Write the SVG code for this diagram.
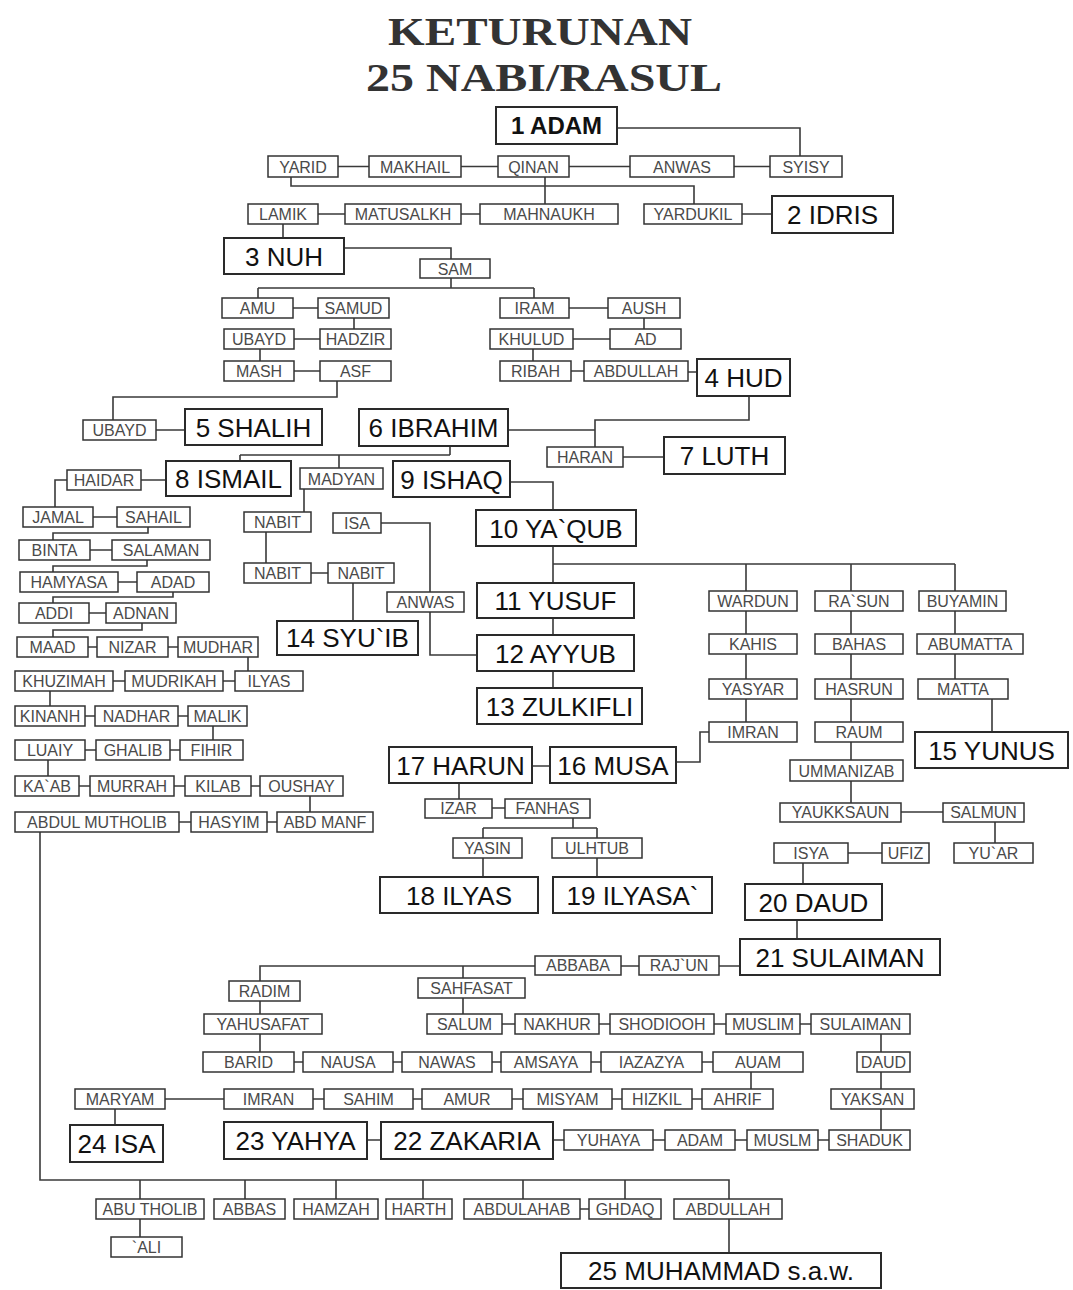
<svg xmlns="http://www.w3.org/2000/svg" width="1073" height="1290" viewBox="0 0 1073 1290">
<style>
.s rect{fill:#fff;stroke:#333;stroke-width:1.5}
.s text{font-family:"Liberation Sans",Arial,sans-serif;font-size:16px;fill:#4a4a4a;text-anchor:middle}
.b rect{fill:#fff;stroke:#2a2a2a;stroke-width:2}
.b text{font-family:"Liberation Sans",Arial,sans-serif;font-size:26px;fill:#111;text-anchor:middle}
.t{font-family:"Liberation Serif","Times New Roman",serif;font-weight:bold;font-size:41px;fill:#333;text-anchor:middle}
#connectors path{stroke:#3a3a3a;stroke-width:1.6;fill:none}
</style>
<rect width="1073" height="1290" fill="#fff"/>
<g id="title">
<text class="t" x="540" y="45" textLength="304" lengthAdjust="spacingAndGlyphs">KETURUNAN</text>
<text class="t" x="544" y="91" textLength="356" lengthAdjust="spacingAndGlyphs">25 NABI/RASUL</text>
</g>
<g id="connectors">
<path d="M617,128H800V156M291,177V186H694V204M545,177V204M283,224V238M344,248H451V259M451,278V288M258,288H534M258,288V298M534,288V298"/>
<path d="M338,166.5H369M461,166.5H498M569,166.5H630M734,166.5H770M318,214H345M461,214H480M742,214H772"/>
<path d="M293,308H318M569,308H608M354,318V329M644,318V329M294,339H320M573,339H610M260,349V361M533,349V361M294,371H320M571,371H584M688,372H697"/>
<path d="M337,381V397H113V420M156,430H185M508,430H595M749,396V420H595V447M623,457H664"/>
<path d="M450,446V455M240,455H450M240,455V461M339,455V468M141,480H166M67,480H55V507"/>
<path d="M93,517H117M148,527V533H53V540M90,550H112M147,560V566H53V572M118,582H137M173,592V597H53V603M89,613H106M142,623V630H53V637"/>
<path d="M88,647H97M168,647H178M248,657V671M113,681H125M223,681H235M50,691V706M85,716H95M178,716H188M213,726V740M85,750H96M170,750H180M48,760V776M79,786H90M174,786H185M251,786H260M310,796V812M179,822H191M267,822H277"/>
<path d="M40,832V1180H729V1199M140,1180V1199M245,1180V1199M336,1180V1199M423,1180V1199M523,1180V1199M625,1180V1199M580,1209H589M140,1219V1237M729,1219V1253"/>
<path d="M510,482H553V510M304,489V512M381,523H430V655H477M266,532V563M311,573H328M353,583V621"/>
<path d="M553,546V583M553,564H955M746,564V722M851,564V803M955,564V679M992,699V732M553,618V635M553,671V688"/>
<path d="M901,812H943M995,822V843M848,853H882M803,863V884M797,920V939M709,732H700V762H676"/>
<path d="M532,766H550M459,783V799M492,808H505M573,818V828M483,828H597M483,828V838M597,828V838M483,858V877M597,858V877"/>
<path d="M621,966H639M719,966H740M535,966H260V981M463,966V978M260,1001V1014M463,998V1014M502,1024H515M599,1024H610M714,1024H726M800,1024H811M260,1034V1052"/>
<path d="M294,1062H303M393,1062H402M492,1062H501M591,1062H601M702,1062H713M881,1034V1052M881,1072V1089M881,1109V1130M751,1072V1089"/>
<path d="M165,1099H224M313,1099H324M412,1099H422M512,1099H523M612,1099H622M692,1099H702M115,1109V1125M367,1140H381M553,1140H564M653,1140H665M735,1140H747M818,1140H829"/>
</g>
<g id="adam" class="b"><rect x="496" y="107" width="121" height="37"/><text x="556.5" y="134" style="font-weight:bold;font-size:24px">1 ADAM</text></g>
<g id="yarid" class="s"><rect x="268" y="156" width="70" height="21"/><text x="303" y="172.5">YARID</text></g>
<g id="makhail" class="s"><rect x="369" y="156" width="92" height="21"/><text x="415" y="172.5">MAKHAIL</text></g>
<g id="qinan" class="s"><rect x="498" y="156" width="71" height="21"/><text x="533.5" y="172.5">QINAN</text></g>
<g id="anwas1" class="s"><rect x="630" y="156" width="104" height="21"/><text x="682" y="172.5">ANWAS</text></g>
<g id="syisy" class="s"><rect x="770" y="156" width="72" height="21"/><text x="806" y="172.5">SYISY</text></g>
<g id="lamik" class="s"><rect x="248" y="204" width="70" height="20"/><text x="283" y="220">LAMIK</text></g>
<g id="matusalkh" class="s"><rect x="345" y="204" width="116" height="20"/><text x="403" y="220">MATUSALKH</text></g>
<g id="mahnaukh" class="s"><rect x="480" y="204" width="138" height="20"/><text x="549" y="220">MAHNAUKH</text></g>
<g id="yardukil" class="s"><rect x="644" y="204" width="98" height="20"/><text x="693" y="220">YARDUKIL</text></g>
<g id="idris" class="b"><rect x="772" y="196" width="121" height="37"/><text x="832.5" y="224">2 IDRIS</text></g>
<g id="nuh" class="b"><rect x="224" y="238" width="120" height="36"/><text x="284" y="265.5">3 NUH</text></g>
<g id="sam" class="s"><rect x="420" y="259" width="70" height="19"/><text x="455" y="274.5">SAM</text></g>
<g id="amu" class="s"><rect x="222" y="298" width="71" height="20"/><text x="257.5" y="314">AMU</text></g>
<g id="samud" class="s"><rect x="318" y="298" width="71" height="20"/><text x="353.5" y="314">SAMUD</text></g>
<g id="iram" class="s"><rect x="500" y="298" width="69" height="20"/><text x="534.5" y="314">IRAM</text></g>
<g id="aush" class="s"><rect x="608" y="298" width="72" height="20"/><text x="644" y="314">AUSH</text></g>
<g id="ubayd1" class="s"><rect x="224" y="329" width="70" height="20"/><text x="259" y="345">UBAYD</text></g>
<g id="hadzir" class="s"><rect x="320" y="329" width="71" height="20"/><text x="355.5" y="345">HADZIR</text></g>
<g id="khulud" class="s"><rect x="490" y="329" width="83" height="20"/><text x="531.5" y="345">KHULUD</text></g>
<g id="ad" class="s"><rect x="610" y="329" width="71" height="20"/><text x="645.5" y="345">AD</text></g>
<g id="mash" class="s"><rect x="224" y="361" width="70" height="20"/><text x="259" y="377">MASH</text></g>
<g id="asf" class="s"><rect x="320" y="361" width="71" height="20"/><text x="355.5" y="377">ASF</text></g>
<g id="ribah" class="s"><rect x="500" y="361" width="71" height="20"/><text x="535.5" y="377">RIBAH</text></g>
<g id="abdullah1" class="s"><rect x="584" y="361" width="104" height="20"/><text x="636" y="377">ABDULLAH</text></g>
<g id="hud" class="b"><rect x="697" y="359" width="93" height="37"/><text x="743.5" y="387">4 HUD</text></g>
<g id="ubayd2" class="s"><rect x="83" y="420" width="73" height="20"/><text x="119.5" y="436">UBAYD</text></g>
<g id="shalih" class="b"><rect x="185" y="409" width="137" height="36"/><text x="253.5" y="436.5">5 SHALIH</text></g>
<g id="ibrahim" class="b"><rect x="359" y="409" width="149" height="37"/><text x="433.5" y="437">6 IBRAHIM</text></g>
<g id="haran" class="s"><rect x="547" y="447" width="76" height="20"/><text x="585" y="463">HARAN</text></g>
<g id="luth" class="b"><rect x="664" y="437" width="121" height="37"/><text x="724.5" y="465">7 LUTH</text></g>
<g id="haidar" class="s"><rect x="67" y="470" width="74" height="20"/><text x="104" y="486">HAIDAR</text></g>
<g id="ismail" class="b"><rect x="166" y="461" width="125" height="35"/><text x="228.5" y="488">8 ISMAIL</text></g>
<g id="madyan" class="s"><rect x="300" y="468" width="83" height="21"/><text x="341.5" y="484.5">MADYAN</text></g>
<g id="ishaq" class="b"><rect x="393" y="461" width="117" height="36"/><text x="451.5" y="488.5">9 ISHAQ</text></g>
<g id="yaqub" class="b"><rect x="476" y="510" width="160" height="36"/><text x="556" y="537.5">10 YA`QUB</text></g>
<g id="jamal" class="s"><rect x="23" y="507" width="70" height="20"/><text x="58" y="523">JAMAL</text></g>
<g id="sahail" class="s"><rect x="117" y="507" width="73" height="20"/><text x="153.5" y="523">SAHAIL</text></g>
<g id="binta" class="s"><rect x="19" y="540" width="71" height="20"/><text x="54.5" y="556">BINTA</text></g>
<g id="salaman" class="s"><rect x="112" y="540" width="98" height="20"/><text x="161" y="556">SALAMAN</text></g>
<g id="hamyasa" class="s"><rect x="20" y="572" width="98" height="20"/><text x="69" y="588">HAMYASA</text></g>
<g id="adad" class="s"><rect x="137" y="572" width="72" height="20"/><text x="173" y="588">ADAD</text></g>
<g id="addi" class="s"><rect x="19" y="603" width="70" height="20"/><text x="54" y="619">ADDI</text></g>
<g id="adnan" class="s"><rect x="106" y="603" width="70" height="20"/><text x="141" y="619">ADNAN</text></g>
<g id="maad" class="s"><rect x="17" y="637" width="71" height="20"/><text x="52.5" y="653">MAAD</text></g>
<g id="nizar" class="s"><rect x="97" y="637" width="71" height="20"/><text x="132.5" y="653">NIZAR</text></g>
<g id="mudhar" class="s"><rect x="178" y="637" width="80" height="20"/><text x="218" y="653">MUDHAR</text></g>
<g id="khuzimah" class="s"><rect x="15" y="671" width="98" height="20"/><text x="64" y="687">KHUZIMAH</text></g>
<g id="mudrikah" class="s"><rect x="125" y="671" width="98" height="20"/><text x="174" y="687">MUDRIKAH</text></g>
<g id="ilyas_s" class="s"><rect x="235" y="671" width="68" height="20"/><text x="269" y="687">ILYAS</text></g>
<g id="kinanh" class="s"><rect x="15" y="706" width="70" height="20"/><text x="50" y="722">KINANH</text></g>
<g id="nadhar" class="s"><rect x="95" y="706" width="83" height="20"/><text x="136.5" y="722">NADHAR</text></g>
<g id="malik" class="s"><rect x="188" y="706" width="59" height="20"/><text x="217.5" y="722">MALIK</text></g>
<g id="luaiy" class="s"><rect x="15" y="740" width="70" height="20"/><text x="50" y="756">LUAIY</text></g>
<g id="ghalib" class="s"><rect x="96" y="740" width="74" height="20"/><text x="133" y="756">GHALIB</text></g>
<g id="fihir" class="s"><rect x="180" y="740" width="63" height="20"/><text x="211.5" y="756">FIHIR</text></g>
<g id="kaab" class="s"><rect x="15" y="776" width="64" height="20"/><text x="47" y="792">KA`AB</text></g>
<g id="murrah" class="s"><rect x="90" y="776" width="84" height="20"/><text x="132" y="792">MURRAH</text></g>
<g id="kilab" class="s"><rect x="185" y="776" width="66" height="20"/><text x="218" y="792">KILAB</text></g>
<g id="oushay" class="s"><rect x="260" y="776" width="83" height="20"/><text x="301.5" y="792">OUSHAY</text></g>
<g id="abdulmutholib" class="s"><rect x="15" y="812" width="164" height="20"/><text x="97" y="828">ABDUL MUTHOLIB</text></g>
<g id="hasyim" class="s"><rect x="191" y="812" width="76" height="20"/><text x="229" y="828">HASYIM</text></g>
<g id="abdmanf" class="s"><rect x="277" y="812" width="96" height="20"/><text x="325" y="828">ABD MANF</text></g>
<g id="nabit1" class="s"><rect x="244" y="512" width="67" height="20"/><text x="277.5" y="528">NABIT</text></g>
<g id="isa_s" class="s"><rect x="333" y="513" width="48" height="20"/><text x="357" y="529">ISA</text></g>
<g id="nabit2" class="s"><rect x="244" y="563" width="67" height="20"/><text x="277.5" y="579">NABIT</text></g>
<g id="nabit3" class="s"><rect x="328" y="563" width="66" height="20"/><text x="361" y="579">NABIT</text></g>
<g id="anwas2" class="s"><rect x="387" y="592" width="77" height="20"/><text x="425.5" y="608">ANWAS</text></g>
<g id="syuib" class="b"><rect x="277" y="621" width="141" height="34"/><text x="347.5" y="647.3">14 SYU`IB</text></g>
<g id="yusuf" class="b"><rect x="477" y="583" width="157" height="35"/><text x="555.5" y="610">11 YUSUF</text></g>
<g id="ayyub" class="b"><rect x="477" y="635" width="157" height="36"/><text x="555.5" y="662.5">12 AYYUB</text></g>
<g id="zulkifli" class="b"><rect x="477" y="688" width="165" height="36"/><text x="559.5" y="715.5">13 ZULKIFLI</text></g>
<g id="wardun" class="s"><rect x="709" y="591" width="88" height="20"/><text x="753" y="607">WARDUN</text></g>
<g id="rasun" class="s"><rect x="815" y="591" width="88" height="20"/><text x="859" y="607">RA`SUN</text></g>
<g id="buyamin" class="s"><rect x="919" y="591" width="87" height="20"/><text x="962.5" y="607">BUYAMIN</text></g>
<g id="kahis" class="s"><rect x="709" y="634" width="88" height="20"/><text x="753" y="650">KAHIS</text></g>
<g id="bahas" class="s"><rect x="815" y="634" width="88" height="20"/><text x="859" y="650">BAHAS</text></g>
<g id="abumatta" class="s"><rect x="917" y="634" width="106" height="20"/><text x="970" y="650">ABUMATTA</text></g>
<g id="yasyar" class="s"><rect x="709" y="679" width="88" height="20"/><text x="753" y="695">YASYAR</text></g>
<g id="hasrun" class="s"><rect x="815" y="679" width="88" height="20"/><text x="859" y="695">HASRUN</text></g>
<g id="matta" class="s"><rect x="918" y="679" width="90" height="20"/><text x="963" y="695">MATTA</text></g>
<g id="imran1" class="s"><rect x="709" y="722" width="88" height="20"/><text x="753" y="738">IMRAN</text></g>
<g id="raum" class="s"><rect x="815" y="722" width="88" height="20"/><text x="859" y="738">RAUM</text></g>
<g id="yunus" class="b"><rect x="915" y="732" width="153" height="36"/><text x="991.5" y="759.5">15 YUNUS</text></g>
<g id="ummanizab" class="s"><rect x="790" y="760" width="113" height="21"/><text x="846.5" y="776.5">UMMANIZAB</text></g>
<g id="yaukksaun" class="s"><rect x="780" y="803" width="121" height="19"/><text x="840.5" y="818.3">YAUKKSAUN</text></g>
<g id="salmun" class="s"><rect x="943" y="803" width="81" height="19"/><text x="983.5" y="818.3">SALMUN</text></g>
<g id="isya" class="s"><rect x="774" y="843" width="74" height="20"/><text x="811" y="859">ISYA</text></g>
<g id="ufiz" class="s"><rect x="882" y="843" width="47" height="20"/><text x="905.5" y="859">UFIZ</text></g>
<g id="yuar" class="s"><rect x="954" y="843" width="79" height="20"/><text x="993.5" y="859">YU`AR</text></g>
<g id="harun" class="b"><rect x="389" y="747" width="143" height="36"/><text x="460.5" y="774.5">17 HARUN</text></g>
<g id="musa" class="b"><rect x="550" y="747" width="126" height="36"/><text x="613" y="774.5">16 MUSA</text></g>
<g id="izar" class="s"><rect x="425" y="799" width="67" height="19"/><text x="458.5" y="814.3">IZAR</text></g>
<g id="fanhas" class="s"><rect x="505" y="799" width="85" height="19"/><text x="547.5" y="814.3">FANHAS</text></g>
<g id="yasin" class="s"><rect x="453" y="838" width="69" height="20"/><text x="487.5" y="854">YASIN</text></g>
<g id="ulhtub" class="s"><rect x="552" y="838" width="90" height="20"/><text x="597" y="854">ULHTUB</text></g>
<g id="ilyas" class="b"><rect x="380" y="877" width="158" height="36"/><text x="459" y="904.5">18 ILYAS</text></g>
<g id="ilyasa" class="b"><rect x="553" y="877" width="159" height="36"/><text x="632.5" y="904.5">19 ILYASA`</text></g>
<g id="daud" class="b"><rect x="745" y="884" width="137" height="36"/><text x="813.5" y="911.5">20 DAUD</text></g>
<g id="sulaiman" class="b"><rect x="740" y="939" width="200" height="36"/><text x="840" y="966.5">21 SULAIMAN</text></g>
<g id="abbaba" class="s"><rect x="535" y="956" width="86" height="19"/><text x="578" y="971.3">ABBABA</text></g>
<g id="rajun" class="s"><rect x="639" y="956" width="80" height="19"/><text x="679" y="971.3">RAJ`UN</text></g>
<g id="radim" class="s"><rect x="229" y="981" width="71" height="20"/><text x="264.5" y="997">RADIM</text></g>
<g id="sahfasat" class="s"><rect x="418" y="978" width="107" height="20"/><text x="471.5" y="994">SAHFASAT</text></g>
<g id="yahusafat" class="s"><rect x="204" y="1014" width="118" height="20"/><text x="263" y="1030">YAHUSAFAT</text></g>
<g id="salum" class="s"><rect x="427" y="1014" width="75" height="20"/><text x="464.5" y="1030">SALUM</text></g>
<g id="nakhur" class="s"><rect x="515" y="1014" width="84" height="20"/><text x="557" y="1030">NAKHUR</text></g>
<g id="shodiooh" class="s"><rect x="610" y="1014" width="104" height="20"/><text x="662" y="1030">SHODIOOH</text></g>
<g id="muslim" class="s"><rect x="726" y="1014" width="74" height="20"/><text x="763" y="1030">MUSLIM</text></g>
<g id="sulaiman2" class="s"><rect x="811" y="1014" width="99" height="20"/><text x="860.5" y="1030">SULAIMAN</text></g>
<g id="barid" class="s"><rect x="203" y="1052" width="91" height="20"/><text x="248.5" y="1068">BARID</text></g>
<g id="nausa" class="s"><rect x="303" y="1052" width="90" height="20"/><text x="348" y="1068">NAUSA</text></g>
<g id="nawas" class="s"><rect x="402" y="1052" width="90" height="20"/><text x="447" y="1068">NAWAS</text></g>
<g id="amsaya" class="s"><rect x="501" y="1052" width="90" height="20"/><text x="546" y="1068">AMSAYA</text></g>
<g id="iazazya" class="s"><rect x="601" y="1052" width="101" height="20"/><text x="651.5" y="1068">IAZAZYA</text></g>
<g id="auam" class="s"><rect x="713" y="1052" width="90" height="20"/><text x="758" y="1068">AUAM</text></g>
<g id="daud2" class="s"><rect x="857" y="1052" width="53" height="20"/><text x="883.5" y="1068">DAUD</text></g>
<g id="maryam" class="s"><rect x="75" y="1089" width="90" height="20"/><text x="120" y="1105">MARYAM</text></g>
<g id="imran2" class="s"><rect x="224" y="1089" width="89" height="20"/><text x="268.5" y="1105">IMRAN</text></g>
<g id="sahim" class="s"><rect x="324" y="1089" width="89" height="20"/><text x="368.5" y="1105">SAHIM</text></g>
<g id="amur" class="s"><rect x="422" y="1089" width="90" height="20"/><text x="467" y="1105">AMUR</text></g>
<g id="misyam" class="s"><rect x="523" y="1089" width="89" height="20"/><text x="567.5" y="1105">MISYAM</text></g>
<g id="hizkil" class="s"><rect x="622" y="1089" width="70" height="20"/><text x="657" y="1105">HIZKIL</text></g>
<g id="ahrif" class="s"><rect x="702" y="1089" width="71" height="20"/><text x="737.5" y="1105">AHRIF</text></g>
<g id="yaksan" class="s"><rect x="831" y="1089" width="83" height="20"/><text x="872.5" y="1105">YAKSAN</text></g>
<g id="isa" class="b"><rect x="70" y="1125" width="93" height="37"/><text x="116.5" y="1153">24 ISA</text></g>
<g id="yahya" class="b"><rect x="224" y="1122" width="143" height="37"/><text x="295.5" y="1150">23 YAHYA</text></g>
<g id="zakaria" class="b"><rect x="381" y="1122" width="172" height="37"/><text x="467" y="1150">22 ZAKARIA</text></g>
<g id="yuhaya" class="s"><rect x="564" y="1130" width="89" height="20"/><text x="608.5" y="1146">YUHAYA</text></g>
<g id="adam2" class="s"><rect x="665" y="1130" width="70" height="20"/><text x="700" y="1146">ADAM</text></g>
<g id="muslm" class="s"><rect x="747" y="1130" width="71" height="20"/><text x="782.5" y="1146">MUSLM</text></g>
<g id="shaduk" class="s"><rect x="829" y="1130" width="81" height="20"/><text x="869.5" y="1146">SHADUK</text></g>
<g id="abutholib" class="s"><rect x="96" y="1199" width="108" height="20"/><text x="150" y="1215">ABU THOLIB</text></g>
<g id="abbas" class="s"><rect x="214" y="1199" width="71" height="20"/><text x="249.5" y="1215">ABBAS</text></g>
<g id="hamzah" class="s"><rect x="294" y="1199" width="84" height="20"/><text x="336" y="1215">HAMZAH</text></g>
<g id="harth" class="s"><rect x="386" y="1199" width="66" height="20"/><text x="419" y="1215">HARTH</text></g>
<g id="abdulahab" class="s"><rect x="464" y="1199" width="116" height="20"/><text x="522" y="1215">ABDULAHAB</text></g>
<g id="ghdaq" class="s"><rect x="589" y="1199" width="72" height="20"/><text x="625" y="1215">GHDAQ</text></g>
<g id="abdullah2" class="s"><rect x="674" y="1199" width="108" height="20"/><text x="728" y="1215">ABDULLAH</text></g>
<g id="ali" class="s"><rect x="111" y="1237" width="71" height="20"/><text x="146.5" y="1253">`ALI</text></g>
<g id="muhammad" class="b"><rect x="561" y="1253" width="320" height="35"/><text x="721" y="1280">25 MUHAMMAD s.a.w.</text></g>
</svg>
